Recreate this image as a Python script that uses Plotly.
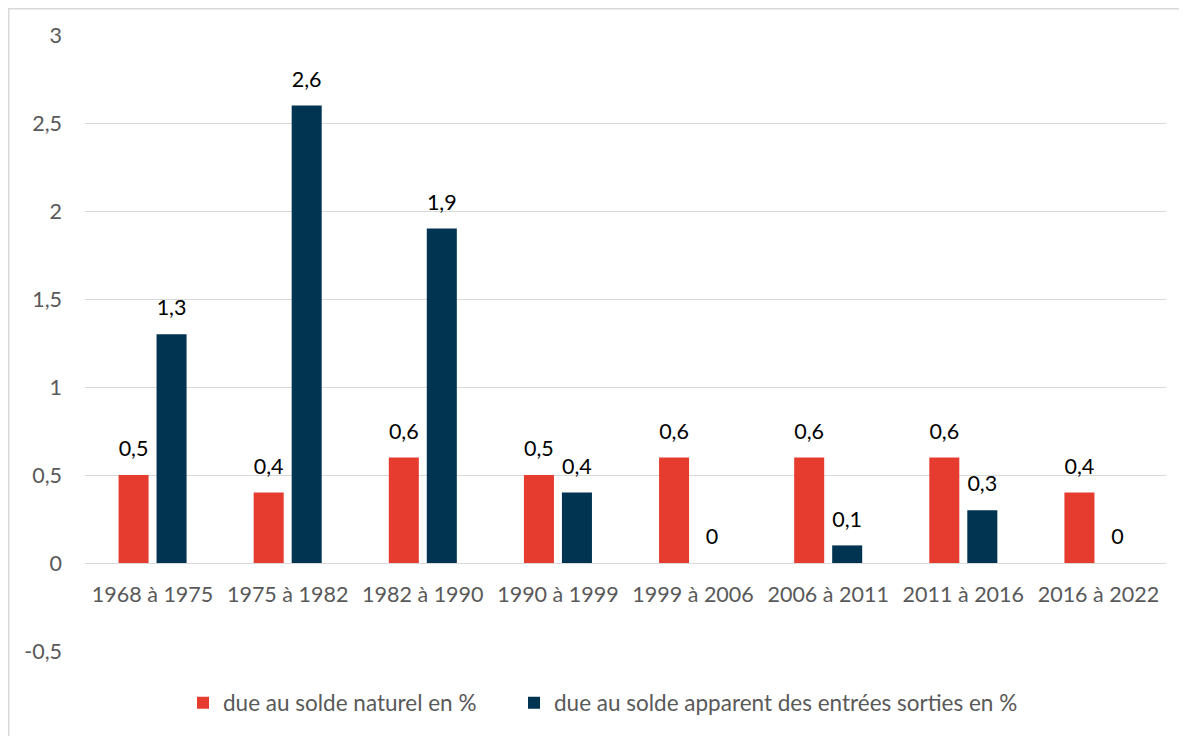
import plotly.graph_objects as go

categories = ["1968 à 1975", "1975 à 1982", "1982 à 1990", "1990 à 1999",
              "1999 à 2006", "2006 à 2011", "2011 à 2016", "2016 à 2022"]
naturel = [0.5, 0.4, 0.6, 0.5, 0.6, 0.6, 0.6, 0.4]
migratoire = [1.3, 2.6, 1.9, 0.4, 0, 0.1, 0.3, 0]
series_names = ["due au solde naturel en %",
                "due au solde apparent des entrées sorties en %"]
colors = ["#e63c2f", "#003450"]
y_tickvals = [-0.5, 0, 0.5, 1, 1.5, 2, 2.5, 3]
y_ticktext = ["-0,5", "0", "0,5", "1", "1,5", "2", "2,5", "3"]

def fmt(v):
    return ("%g" % v).replace(".", ",")

FONT = "Lato"
W, H = 1179, 728
L, R, T, B = 77, 21, 27, 85
PW, PH = W - L - R, H - T - B

def px(x):
    return (x - L) / PW

def py(y):
    return (T + PH - y) / PH

fig = go.Figure()
legends = ["legend", "legend2"]
for i, vals in enumerate([naturel, migratoire]):
    fig.add_trace(go.Bar(x=categories, y=vals, name=series_names[i],
                         marker_color=colors[i], marker_line_width=0,
                         offsetgroup=str(i), alignmentgroup="g",
                         legend=legends[i]))
for i, vals in enumerate([naturel, migratoire]):
    fig.add_trace(go.Scatter(x=categories, y=vals, mode="markers+text",
                             text=[fmt(v) for v in vals], textposition="top center",
                             marker=dict(size=20, opacity=0),
                             textfont=dict(size=21.5, color="#000000", family=FONT),
                             offsetgroup=str(i), alignmentgroup="g",
                             showlegend=False, hoverinfo="skip", cliponaxis=False))

leg_common = dict(orientation="h", xanchor="left", yanchor="middle",
                  y=py(695), font=dict(size=22.5, color="#595959", family=FONT),
                  itemwidth=30, bgcolor="rgba(0,0,0,0)")
fig.update_layout(
    width=W, height=H,
    margin=dict(l=L, r=R, t=T, b=B),
    paper_bgcolor="white", plot_bgcolor="white",
    barmode="group", bargap=0.4375, bargroupgap=0.21, scattermode="group",
    font=dict(family=FONT, size=21.5, color="#595959"),
    showlegend=True,
    legend=dict(x=px(175), **leg_common),
    legend2=dict(x=px(506), **leg_common),
    yaxis=dict(range=[-0.5, 3], tickvals=y_tickvals, ticktext=y_ticktext,
               showgrid=True, gridcolor="#d9d9d9", gridwidth=1,
               zeroline=True, zerolinecolor="#d9d9d9", zerolinewidth=1,
               showline=False, ticks="", ticklabelstandoff=22, automargin=False,
               tickfont=dict(size=21.5, color="#595959")),
    xaxis=dict(anchor="free", position=py(555),
               showline=False, ticks="", tickfont=dict(size=21.5, color="#595959"),
               ticklabelstandoff=16, automargin=False),
    shapes=[dict(type="rect", xref="paper", yref="paper",
                 x0=px(0.75), x1=px(W - 0.75), y0=py(H + 10), y1=py(0.75),
                 line=dict(color="#d9d9d9", width=1.5), fillcolor="rgba(0,0,0,0)",
                 layer="below")],
)
fig.write_html("out.html")
